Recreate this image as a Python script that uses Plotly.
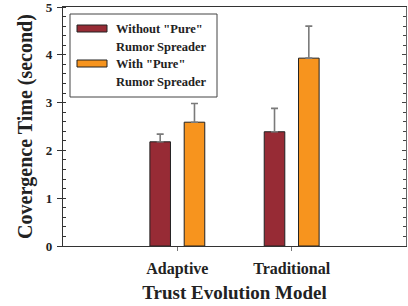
import plotly.graph_objects as go

categories = ["Adaptive", "Traditional"]
without_pure = [2.18, 2.39]
without_err = [0.16, 0.49]
with_pure = [2.59, 3.93]
with_err = [0.39, 0.67]
series_names = ['Without "Pure"<br>Rumor Spreader', 'With "Pure"<br>Rumor Spreader']
y_ticks = [0, 1, 2, 3, 4, 5]

FONT = "Liberation Serif, Times New Roman, serif"
DARK = "#972B35"
ORANGE = "#F7941E"

fig = go.Figure()
for name, vals, errs, col in [(series_names[0], without_pure, without_err, DARK),
                              (series_names[1], with_pure, with_err, ORANGE)]:
    fig.add_trace(go.Bar(
        x=categories, y=vals, name=name,
        marker=dict(color=col, line=dict(color="#222222", width=1)),
        error_y=dict(type="data", array=errs, arrayminus=[0] * len(errs), symmetric=False,
                     color="#7a7a7a", thickness=1.6, width=3.5),
        showlegend=False,
    ))

# invisible trace to drive the right-side tick axis
fig.add_trace(go.Scatter(x=[categories[0]], y=[0], yaxis="y2", mode="markers",
                         marker=dict(opacity=0), showlegend=False, hoverinfo="skip"))

fig.update_layout(
    width=408, height=306,
    margin=dict(l=63, r=2, t=7, b=60, autoexpand=False),
    paper_bgcolor="white", plot_bgcolor="white",
    barmode="group", bargap=0.4, bargroupgap=0.4,
    font=dict(family=FONT, color="#222222"),
    xaxis=dict(
        type="category", range=[-1, 2], automargin=False,
        showline=True, linecolor="#333333", linewidth=1.2, mirror=True,
        ticks="outside", ticklen=4, tickcolor="#777777",
        tickfont=dict(size=16, family=FONT, weight="bold"),
        ticklabelstandoff=4,
        title=dict(text="Trust Evolution Model", font=dict(size=19, family=FONT, weight="bold"),
                   standoff=8),
        showgrid=False, zeroline=False,
    ),
    yaxis=dict(
        range=[0, 5], tickvals=y_ticks, ticktext=[str(v) for v in y_ticks], automargin=False,
        showline=True, linecolor="#333333", linewidth=1.2,
        ticks="outside", ticklen=5, tickcolor="#333333",
        minor=dict(dtick=0.2, ticks="inside", ticklen=3, tickcolor="#333333"),
        tickfont=dict(size=13, family=FONT, weight="bold"),
        ticklabelstandoff=2, ticklabeloverflow="allow",
        title=dict(text="Covergence Time (second)", font=dict(size=20, family=FONT, weight="bold"),
                   standoff=7),
        showgrid=False, zeroline=False,
    ),
    yaxis2=dict(
        overlaying="y", side="right", range=[0, 5], tickvals=y_ticks, automargin=False,
        showticklabels=False, showline=True, linecolor="#666666", linewidth=1,
        ticks="inside", ticklen=4, tickcolor="#444444",
        minor=dict(dtick=0.2, ticks="inside", ticklen=3, tickcolor="#444444"),
        showgrid=False, zeroline=False,
    ),
)

# custom legend (box, swatches, labels)
def px_x(p):
    return (p - 63) / 343.0

def px_y(p):
    return (246 - p) / 239.0

shapes = [dict(type="rect", xref="paper", yref="paper",
               x0=px_x(70), x1=px_x(217), y0=px_y(97), y1=px_y(14),
               line=dict(color="#444444", width=1), fillcolor="rgba(0,0,0,0)")]
legend_rows = [(28.5, 47, DARK, 'Without "Pure"', "Rumor Spreader"),
               (63.5, 82, ORANGE, 'With "Pure"', "Rumor Spreader")]
annotations = []
for y1, y2, col, l1, l2 in legend_rows:
    shapes.append(dict(type="rect", xref="paper", yref="paper",
                       x0=px_x(77), x1=px_x(107), y0=px_y(y1 + 3.5), y1=px_y(y1 - 3.5),
                       line=dict(color="#222222", width=1), fillcolor=col))
    for yy, t in [(y1, l1), (y2, l2)]:
        annotations.append(dict(xref="paper", yref="paper", x=px_x(114), y=px_y(yy),
                                xanchor="left", yanchor="middle", showarrow=False, text=t,
                                font=dict(size=12.5, family=FONT, weight="bold", color="#222222")))
fig.update_layout(shapes=shapes, annotations=annotations)

fig.write_html("out.html", config={"displayModeBar": False},
               post_script="document.body.style.margin='0';document.body.style.padding='0';")
